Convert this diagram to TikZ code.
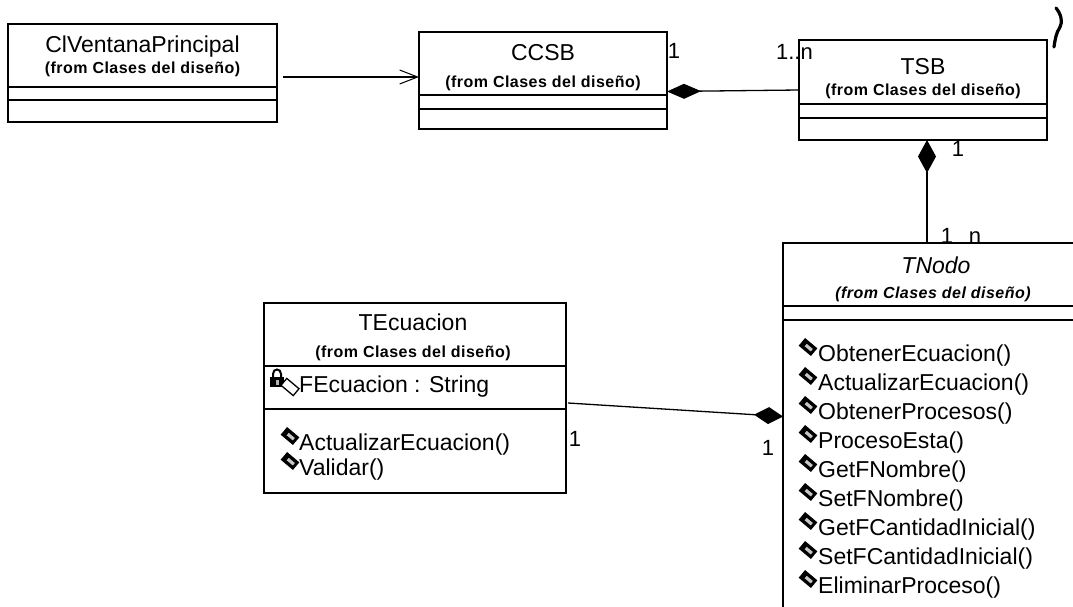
\documentclass[tikz,border=0pt]{standalone}
\usepackage{fontspec}
\setmainfont{Liberation Sans}
\newfontfamily\fromfont[LetterSpace=3]{Liberation Sans}
\usetikzlibrary{arrows.meta}

\tikzset{
  cls/.style={draw, line width=1.1pt, anchor=north west, inner sep=0pt, outer sep=0pt},
  sep/.style={line width=1.1pt},
  nm/.style={inner sep=0pt, anchor=base, font=\fontsize{23}{28}\selectfont},
  nmit/.style={nm, font=\itshape\fontsize{23}{28}\selectfont},
  frm/.style={inner sep=0pt, anchor=base, font=\fromfont\bfseries\fontsize{16}{19}\selectfont},
  frmit/.style={inner sep=0pt, anchor=base, font=\fromfont\bfseries\itshape\fontsize{16}{19}\selectfont},
  op/.style={inner sep=0pt, anchor=base west, font=\fontsize{23}{28}\selectfont},
  mult/.style={inner sep=0pt, anchor=base, font=\fontsize{22}{26}\selectfont},
  link/.style={line width=1.3pt},
  comp/.style={link, {Diamond[length=#1]}-},
  dep/.style={link, -{Straight Barb[length=18pt,width=14pt,line width=1pt]}},
  % public operation marker
  opicon/.pic={
    \fill[black, rotate=-40] (-8,-5) rectangle (8,5);
    \fill[gray!45, rotate=-40] (-3,-1.6) rectangle (5,1.6);
  },
  % private attribute marker: padlock
  lockicon/.pic={
    \draw[line width=2pt] (-4,0) -- (-4,-3) .. controls (-4,-9) and (4,-9) .. (4,-3) -- (4,0);
    \fill (-7,0) rectangle (7,10);
    \fill[gray!60] (-1.5,3) rectangle (1.5,7.5);
  },
  attricon/.pic={
    \draw[fill=white, line width=1.3pt, rotate=-40] (-8,-4.5) rectangle (8,4.5);
  }
}

\begin{document}
\begin{tikzpicture}[x=1pt, y=-1pt]
\useasboundingbox (0,0) rectangle (1073,607);
\clip (0,0) rectangle (1073,607);
\fill[white] (0,0) rectangle (1073,607);

% ---- ClVentanaPrincipal
\node[cls, minimum width=269pt, minimum height=98pt] (clv) at (8,24) {};
\draw[sep] ([yshift=-63pt]clv.north west) -- ([yshift=-63pt]clv.north east);
\draw[sep] ([yshift=-76pt]clv.north west) -- ([yshift=-76pt]clv.north east);
\node[nm] (clvname) at (142.5,53) {ClVentanaPrincipal};
\node[frm] (clvfrom) at (142.5,74) {(from Clases del diseño)};

% ---- CCSB
\node[cls, minimum width=248pt, minimum height=97pt] (ccsb) at (419,32) {};
\draw[sep] ([yshift=-63pt]ccsb.north west) -- ([yshift=-63pt]ccsb.north east);
\draw[sep] ([yshift=-77pt]ccsb.north west) -- ([yshift=-77pt]ccsb.north east);
\node[nm] (ccsbname) at (543,61) {CCSB};
\node[frm] (ccsbfrom) at (543,88) {(from Clases del diseño)};

% ---- TSB
\node[cls, minimum width=248pt, minimum height=100pt] (tsb) at (799,40) {};
\draw[sep] ([yshift=-64pt]tsb.north west) -- ([yshift=-64pt]tsb.north east);
\draw[sep] ([yshift=-78pt]tsb.north west) -- ([yshift=-78pt]tsb.north east);
\node[nm] (tsbname) at (923,75) {TSB};
\node[frm] (tsbfrom) at (923,96) {(from Clases del diseño)};

% ---- TNodo (runs past the lower right edge)
\node[cls, minimum width=307pt, minimum height=377pt] (tnodo) at (783,243) {};
\draw[sep] ([yshift=-63pt]tnodo.north west) -- ([yshift=-63pt]tnodo.north east);
\draw[sep] ([yshift=-77pt]tnodo.north west) -- ([yshift=-77pt]tnodo.north east);
\node[nmit] (tnodoname) at (936,273) {TNodo};
\node[frmit] (tnodofrom) at (933,298) {(from Clases del diseño)};
\foreach \t [count=\i] in {ObtenerEcuacion(), ActualizarEcuacion(), ObtenerProcesos(),
    ProcesoEsta(), GetFNombre(), SetFNombre(), GetFCantidadInicial(),
    SetFCantidadInicial(), EliminarProceso()} {
  \pic at (808,{347+29*(\i-1)}) {opicon};
  \node[op] (tnop\i) at (818,{361+29*(\i-1)}) {\t};
}

% ---- TEcuacion
\node[cls, minimum width=302pt, minimum height=190pt] (tecu) at (264,303) {};
\draw[sep] ([yshift=-63pt]tecu.north west) -- ([yshift=-63pt]tecu.north east);
\draw[sep] ([yshift=-106pt]tecu.north west) -- ([yshift=-106pt]tecu.north east);
\node[nm] (tecuname) at (413,330) {TEcuacion};
\node[frm] (tecufrom) at (413,357) {(from Clases del diseño)};
\pic at (277,377) {lockicon};
\pic at (290,387) {attricon};
\node[op] (tecuattr) at (299,392) {FEcuacion : String};
\pic at (290,436) {opicon};
\node[op] (tecuop1) at (299,450) {ActualizarEcuacion()};
\pic at (290,461) {opicon};
\node[op] (tecuop2) at (299,475) {Validar()};

% ---- connectors
\coordinate (depstart) at ([xshift=6pt,yshift=-4pt]clv.east);
\draw[dep] (depstart) -- (depstart -| ccsb.west);

\draw[comp={34pt,width=15pt}] ([yshift=-11pt]ccsb.east) -- (tsb.west);

\coordinate (tsbdown) at ([xshift=4pt]tsb.south);
\draw[comp={33pt,width=18pt}] (tsbdown) -- (tsbdown |- tnodo.north);

\draw[comp={29pt,width=17pt}] ([yshift=15pt]tnodo.west) -- ([yshift=-5pt,xshift=2pt]tecu.east);

% ---- multiplicities
\node[mult] (m1) at (674,59) {1};
\node[mult, anchor=base east] (m2) at (813,60) {1..n};
\node[mult] (m3) at (958,156) {1};
\node[mult] (m4) at (947,243) {1};
\node[mult] (m5) at (975,243) {n};
\node[mult] (m6) at (575,446) {1};
\node[mult] (m7) at (768,455) {1};

% ---- stray brace mark above TSB
\draw[line width=3.2pt, line cap=round] (1056,8) .. controls (1061,14) and (1063,22) .. (1060,27)
  .. controls (1056,33) and (1055,40) .. (1054,47);
\end{tikzpicture}
\end{document}
